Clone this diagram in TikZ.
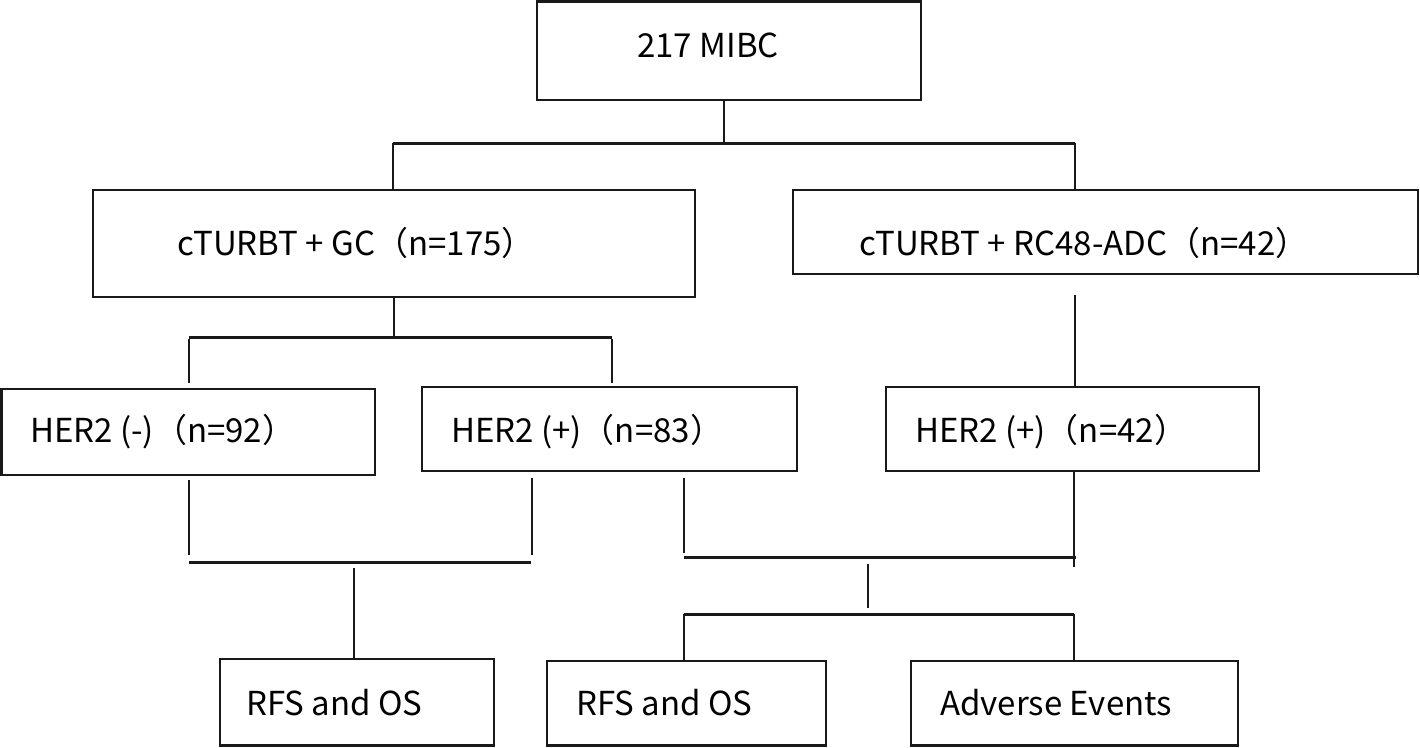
\documentclass[tikz,border=0pt]{standalone}
\usepackage{fontspec}
\setmainfont{Noto Sans CJK SC}
\begin{document}
\begin{tikzpicture}[x=1pt,y=-1pt,
  box/.style={draw=black!90,line width=2.8pt,inner sep=0pt},
  lbl/.style={anchor=west,inner sep=0pt,font=\fontsize{33}{38}\selectfont},
  conn/.style={draw=black!90,line width=2pt},
  bar/.style={draw=black!90,line width=3pt}]
\useasboundingbox (0,0) rectangle (1420,747);
% boxes (corners)
\newcommand{\boxat}[5]{\node[box,minimum width={#4-#2},minimum height={#5-#3}] (#1) at ({(#2+#4)/2},{(#3+#5)/2}) {};}
\boxat{top}{537}{1.5}{921}{100}
\boxat{gc}{93}{190}{695}{297}
\boxat{rc}{793}{190}{1418}{274}
\boxat{hn}{1.5}{389}{375}{475}
\boxat{hpa}{422}{387}{797}{471}
\boxat{hpb}{886}{387}{1259}{471}
\boxat{ra}{220}{659}{494}{745.5}
\boxat{rb}{547}{661}{826}{745.5}
\boxat{ae}{911}{661}{1238}{745.5}
% labels
\node[lbl] (ttop) at (637,45) {217 MIBC};
\node[lbl] (tgc) at (177,243) {cTURBT + GC（n=175）};
\node[lbl] (trc) at (859,243) {cTURBT + RC48-ADC（n=42）};
\node[lbl] (thn) at (30,432) {HER2 (-)（n=92）};
\node[lbl] (thpa) at (451,432) {HER2 (+)（n=83）};
\node[lbl] (thpb) at (915,432) {HER2 (+)（n=42）};
\node[lbl] (tra) at (246,703) {RFS and OS};
\node[lbl] (trb) at (576,703) {RFS and OS};
\node[lbl] (tae) at (940,703) {Adverse Events};
% connector coordinates
\coordinate (b1) at (724,143);
\coordinate (b1l) at (393,143);
\coordinate (b1r) at (1075,143);
\coordinate (b2) at (394,337);
\coordinate (b2l) at (189,337);
\coordinate (b2r) at (612,337);
\coordinate (b3l) at (189,562);
\coordinate (b3r) at (531,562);
\coordinate (b3m) at (354,568);
\coordinate (b4l) at (684,557);
\coordinate (b4r) at (1076,557);
\coordinate (b4m) at (868,564);
\coordinate (b5m) at (868,608);
\coordinate (b5l) at (684,614);
\coordinate (b5r) at (1074,614);
% connectors
\draw[conn] (top.south -| b1) -- (b1);
\draw[bar] (b1l) -- (b1r);
\draw[conn] (b1l) -- (b1l |- gc.north);
\draw[conn] (b1r) -- (b1r |- gc.north);
\draw[conn] (gc.south -| b2) -- (b2);
\draw[bar] (b2l) -- (b2r);
\draw[conn] (189,339) -- (189,383);
\draw[conn] (612,339) -- (612,383);
\draw[conn] ([yshift=-20pt]rc.south -| b1r) -- (hpb.north -| b1r);
\draw[conn] (189,480) -- (189,555);
\draw[conn] (532,478) -- (532,555);
\draw[bar] (b3l) -- (b3r);
\draw[conn] (b3m) -- (ra.north -| b3m);
\draw[conn] (684,478) -- (684,553);
\draw[conn] (hpb.south -| 1074,0) -- (1074,567);
\draw[bar] (b4l) -- (b4r);
\draw[conn] (b4m) -- (b5m);
\draw[bar] (b5l) -- (b5r);
\draw[conn] (b5l) -- (rb.north -| b5l);
\draw[conn] (b5r) -- (ae.north -| b5r);
\end{tikzpicture}
\end{document}
